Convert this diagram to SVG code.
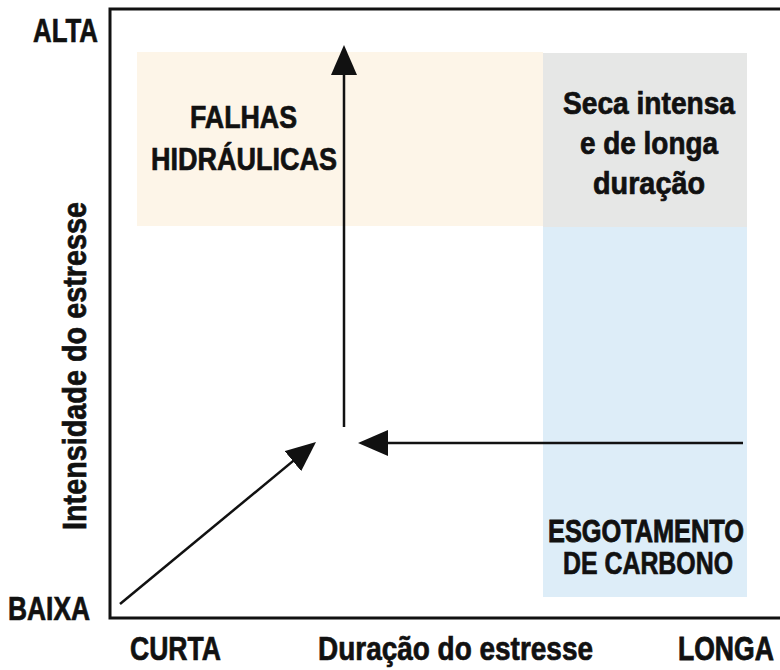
<svg xmlns="http://www.w3.org/2000/svg" width="780" height="670" viewBox="0 0 780 670">
  <style>
    text { font-family: "Liberation Sans Narrow", "Liberation Sans", Arial, sans-serif; font-weight: bold; fill: #111; stroke: #111; stroke-width: 0.7px; }
    .ax { font-size: 33px; }
    .lb { font-size: 31px; }
    .wide { font-family: "Liberation Sans", Arial, sans-serif; stroke-width: 0.85px; }
    .arrow { stroke: #111; stroke-width: 2.5; fill: none; marker-end: url(#head); }
  </style>
  <defs>
    <marker id="head" viewBox="0 0 30 26" refX="20" refY="13" markerWidth="30" markerHeight="26" markerUnits="userSpaceOnUse" orient="auto">
      <path d="M0,0 L30,13 L0,26 Z" fill="#111"/>
    </marker>
  </defs>
  <rect width="780" height="670" fill="#fff"/>

  <g id="falhas">
    <rect x="137" y="52" width="406" height="174" fill="#fdf5e8"/>
    <text class="lb" x="190" y="128" textLength="107" lengthAdjust="spacingAndGlyphs">FALHAS</text>
    <text class="lb" x="151" y="170" textLength="186" lengthAdjust="spacingAndGlyphs">HIDRÁULICAS</text>
  </g>
  <g id="seca">
    <rect x="543" y="53" width="204" height="174" fill="#e6e7e6"/>
    <text class="lb" x="563" y="114" textLength="172" lengthAdjust="spacingAndGlyphs">Seca intensa</text>
    <text class="lb" x="580" y="154" textLength="138" lengthAdjust="spacingAndGlyphs">e de longa</text>
    <text class="lb" x="593" y="194" textLength="112" lengthAdjust="spacingAndGlyphs">duração</text>
  </g>
  <g id="esgotamento">
    <rect x="543" y="227" width="204" height="370" fill="#ddedf8"/>
    <text class="lb wide" transform="translate(548,542) scale(0.787,1)" x="0" y="0" textLength="249" lengthAdjust="spacingAndGlyphs">ESGOTAMENTO</text>
    <text class="lb" x="563" y="574" textLength="170" lengthAdjust="spacingAndGlyphs">DE CARBONO</text>
  </g>

  <g id="axes">
    <path d="M780,9 H110 V618 H780" fill="none" stroke="#111" stroke-width="3"/>
    <text class="ax" x="33" y="42" textLength="65" lengthAdjust="spacingAndGlyphs">ALTA</text>
    <text class="ax" x="8" y="620" textLength="82" lengthAdjust="spacingAndGlyphs">BAIXA</text>
    <text class="ax" x="130" y="660" textLength="91" lengthAdjust="spacingAndGlyphs">CURTA</text>
    <text class="ax" x="318" y="660" textLength="275" lengthAdjust="spacingAndGlyphs">Duração do estresse</text>
    <text class="ax wide" transform="translate(678,660) scale(0.805,1)" x="0" y="0" textLength="119" lengthAdjust="spacingAndGlyphs">LONGA</text>
    <text class="ax" transform="translate(86,530) rotate(-90)" x="0" y="0" font-size="34" textLength="328" lengthAdjust="spacingAndGlyphs">Intensidade do estresse</text>
  </g>

  <g id="connectors">
    <line class="arrow" x1="344" y1="427" x2="344" y2="55"/>
    <line class="arrow" x1="743" y1="443" x2="368" y2="443"/>
    <line class="arrow" x1="120" y1="604" x2="308.3" y2="448.4"/>
  </g>
</svg>
